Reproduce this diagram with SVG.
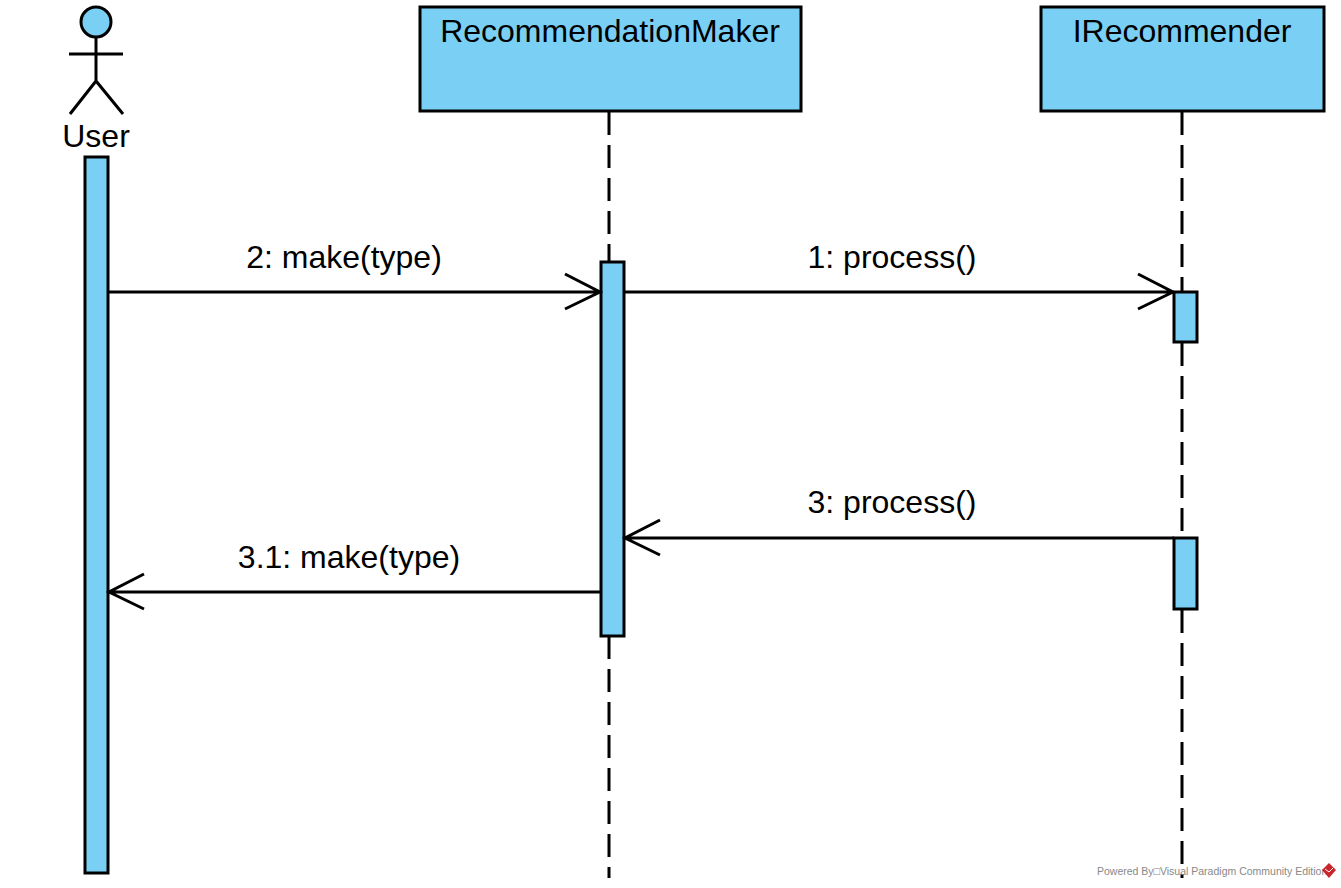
<svg xmlns="http://www.w3.org/2000/svg" width="1341" height="888" viewBox="0 0 1341 888">
<style>
.f{fill:#7acff5;stroke:#000;stroke-width:3}
.l{fill:none;stroke:#000;stroke-width:3}
.d{fill:none;stroke:#000;stroke-width:3;stroke-dasharray:23 10}
text{font-family:"Liberation Sans",Arial,sans-serif;font-size:32px;fill:#000;text-anchor:middle}
.w{font-size:10.5px;fill:#888;text-anchor:start}
</style>
<rect width="1341" height="888" fill="#fff"/>
<g id="lifelines">
<path class="d" d="M609 112V262M609 636V878"/>
<path class="d" d="M1182 112V292M1182 343V538M1182 610V878"/>
</g>
<g id="user">
<circle class="f" cx="96" cy="22" r="15"/>
<path class="l" d="M96 37V81M69 54H123M70 114L96 81L123 114"/>
<text x="96" y="147">User</text>
<rect class="f" x="85" y="157" width="23" height="716"/>
</g>
<g id="recommendationmaker">
<rect class="f" x="420" y="7" width="381" height="104"/>
<text x="610" y="42">RecommendationMaker</text>
<rect class="f" x="601" y="262" width="23" height="374"/>
</g>
<g id="irecommender">
<rect class="f" x="1041" y="7" width="283" height="104"/>
<text x="1182" y="42">IRecommender</text>
<rect class="f" x="1174" y="292" width="23" height="50"/>
<rect class="f" x="1174" y="538" width="23" height="71"/>
</g>
<g id="connectors">
<path class="l" d="M108 292H600M565 274L600 292L565 309"/>
<path class="l" d="M625 292H1173M1138 274L1173 292L1138 309"/>
<path class="l" d="M1174 538H625M660 520L625 538L660 555"/>
<path class="l" d="M601 592H109M144 574L109 592L144 609"/>
</g>
<g id="labels">
<text x="344" y="268">2: make(type)</text>
<text x="892" y="268">1: process()</text>
<text x="892" y="513">3: process()</text>
<text x="349" y="568">3.1: make(type)</text>
</g>
<g id="watermark">
<text class="w" x="1097" y="875">Powered By□Visual Paradigm Community Edition</text>
<path fill="#c8262c" d="M1329 863L1336 870L1329 878L1322 870Z"/>
<path fill="none" stroke="#fff" stroke-width="1" d="M1325 869L1329 872L1333 868"/>
</g>
</svg>
